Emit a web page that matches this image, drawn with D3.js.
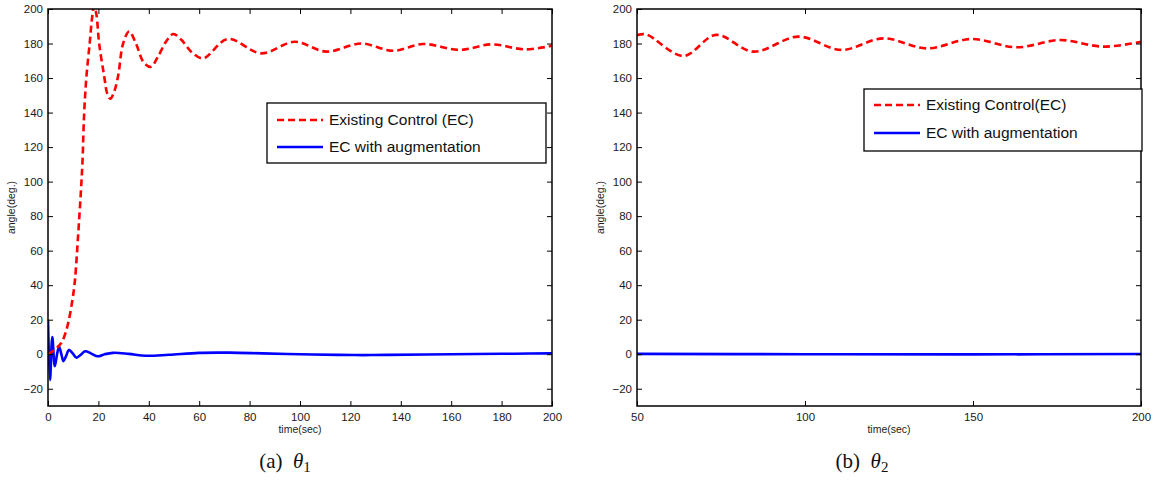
<!DOCTYPE html>
<html>
<head>
<meta charset="utf-8">
<script src="https://cdn.jsdelivr.net/npm/d3@7"></script>
<style>
  body { margin: 0; background: #fff; }
  svg { display: block; }
  .tick text { font-family: "Liberation Sans", Arial, sans-serif; font-size: 11.5px; fill: #1a1a1a; }
  .tick line { stroke: #000; stroke-width: 1; }
  .domain { display: none; }
</style>
</head>
<body>
<svg id="chart" width="1154" height="480"></svg>
<script>
'use strict';

// ---- data ----
var yTicks = [-20, 0, 20, 40, 60, 80, 100, 120, 140, 160, 180, 200];
var xTicks1 = [0, 20, 40, 60, 80, 100, 120, 140, 160, 180, 200];
var xTicks2 = [50, 100, 150, 200];

// panel (a): theta 1
var ecTime1 = [0, 3, 5, 6.4, 8, 9.7, 10.7, 12, 13, 13.7, 14.3, 15.2, 16.6, 17.5, 18.3, 19.2, 20.3,
  22.3, 23.5, 24.7, 26, 27.8, 29.8, 32.2, 34.9, 38, 40.8, 43.5, 46.8, 49.7, 53, 57, 61.6,
  71.3, 84.6, 97.8, 110.4, 124.3, 136.9, 148.8, 163.4, 176, 189.3, 200];
var ecAngle1 = [0, 3, 6, 10, 18, 31.5, 43, 70, 93, 112, 138, 160, 181, 195, 202, 197, 180,
  161, 151, 148, 151, 161, 180, 187, 180, 169, 166.5, 172, 181, 185.5, 182, 175, 171.4,
  182.6, 174.3, 181, 175.3, 180, 175.8, 179.7, 176.3, 179.5, 176.6, 178.7];
var augTime1 = [0, 0.8, 1.7, 2.7, 3.6, 4.4, 5.3, 6.1, 7.2, 8.3, 9.8, 11.3, 13, 14.7, 17, 19.8,
  22.5, 25.8, 32, 38.8, 48, 60, 72, 85, 100, 115, 125, 135, 150, 170, 185, 200];
var augAngle1 = [20, -15, 10, -7, 0, 4.5, 0, -4, -1, 2.5, 0.5, -2, -0.3, 1.7, 0.5, -1.2,
  0, 0.8, 0.2, -0.9, -0.3, 0.8, 0.9, 0.5, 0, -0.4, -0.5, -0.4, -0.2, 0.1, 0.3, 0.5];

// panel (b): theta 2
var ecTime2 = [50, 52.7, 63.8, 73.5, 84.6, 98, 110.8, 123.3, 136.2, 149.6, 163, 175.9, 188.8, 200];
var ecAngle2 = [184.8, 185.3, 172.8, 185, 175.3, 184, 176.3, 183, 177.2, 182.6, 177.8, 182, 178.2, 181];
var augTime2 = [50, 100, 150, 200];
var augAngle2 = [0.2, 0, -0.1, 0.1];

var legendLabels1 = ['Existing Control (EC)', 'EC with augmentation'];
var legendLabels2 = ['Existing Control(EC)', 'EC with augmentation'];

var svg = d3.select('#chart');
svg.append('rect').attr('width', 1154).attr('height', 480).attr('fill', '#fff');

function zip(ts, vs) {
  return ts.map(function(t, i) { return [t, vs[i]]; });
}

function drawPanel(p) {
  var x = d3.scaleLinear().domain(p.xDomain).range([p.left, p.right]);
  var y = d3.scaleLinear().domain([-30, 200]).range([406, 9]);
  var g = svg.append('g');

  g.append('clipPath').attr('id', p.id + 'clip')
    .append('rect')
    .attr('x', p.left).attr('y', y(200))
    .attr('width', p.right - p.left).attr('height', y(-30) - y(200));

  var line = d3.line()
    .x(function(d) { return x(d[0]); })
    .y(function(d) { return y(d[1]); })
    .curve(d3.curveCatmullRom.alpha(0.5));

  var plot = g.append('g').attr('clip-path', 'url(#' + p.id + 'clip)');
  plot.append('path')
    .attr('d', line(zip(p.augT, p.augV)))
    .attr('fill', 'none').attr('stroke', '#0000ff').attr('stroke-width', 2.6);
  plot.append('path')
    .attr('d', line(zip(p.ecT, p.ecV)))
    .attr('fill', 'none').attr('stroke', '#ff0000').attr('stroke-width', 2.6)
    .attr('stroke-dasharray', '7,4');

  // axes, MATLAB style: ticks inside on all four sides
  g.append('g').attr('transform', 'translate(' + p.left + ',0)')
    .call(d3.axisLeft(y).tickValues(yTicks).tickSizeInner(-5).tickSizeOuter(0).tickPadding(5));
  g.append('g').attr('transform', 'translate(' + p.right + ',0)')
    .call(d3.axisRight(y).tickValues(yTicks).tickSizeInner(-5).tickSizeOuter(0).tickFormat(''));
  g.append('g').attr('transform', 'translate(0,' + y(-30) + ')')
    .call(d3.axisBottom(x).tickValues(p.xTicks).tickSizeInner(-5).tickSizeOuter(0).tickPadding(7));
  g.append('g').attr('transform', 'translate(0,' + y(200) + ')')
    .call(d3.axisTop(x).tickValues(p.xTicks).tickSizeInner(-5).tickSizeOuter(0).tickFormat(''));

  g.append('rect')
    .attr('x', p.left).attr('y', y(200))
    .attr('width', p.right - p.left).attr('height', y(-30) - y(200))
    .attr('fill', 'none').attr('stroke', '#000').attr('stroke-width', 1.5);

  g.append('text')
    .attr('transform', 'translate(' + (p.left - 33) + ',' + ((y(200) + y(-30)) / 2) + ') rotate(-90)')
    .attr('text-anchor', 'middle')
    .attr('font-family', 'Liberation Sans, Arial, sans-serif')
    .attr('font-size', 10.5).attr('fill', '#222')
    .text('angle(deg.)');
  g.append('text')
    .attr('x', (p.left + p.right) / 2).attr('y', 433)
    .attr('text-anchor', 'middle')
    .attr('font-family', 'Liberation Sans, Arial, sans-serif')
    .attr('font-size', 10.5).attr('fill', '#222')
    .text('time(sec)');

  // legend
  var lg = p.legend;
  g.append('rect')
    .attr('x', lg.x).attr('y', lg.y).attr('width', lg.w).attr('height', lg.h)
    .attr('fill', '#fff').attr('stroke', '#000').attr('stroke-width', 1.3);
  var styles = [{ c: '#ff0000', dash: '7,4' }, { c: '#0000ff', dash: null }];
  p.labels.forEach(function(label, i) {
    var ly = lg.y + lg.row0 + i * lg.gap;
    g.append('line')
      .attr('x1', lg.x + 10).attr('x2', lg.x + 56)
      .attr('y1', ly).attr('y2', ly)
      .attr('stroke', styles[i].c).attr('stroke-width', 2.4)
      .attr('stroke-dasharray', styles[i].dash);
    g.append('text')
      .attr('x', lg.x + 62).attr('y', ly + 5)
      .attr('font-family', 'Liberation Sans, Arial, sans-serif')
      .attr('font-size', 15.5).attr('fill', '#111')
      .text(label);
  });

  // caption
  var cap = g.append('text')
    .attr('x', p.capX).attr('y', 468)
    .attr('text-anchor', 'middle')
    .attr('font-family', 'Liberation Serif, Times New Roman, serif')
    .attr('font-size', 21).attr('fill', '#111')
    .attr('xml:space', 'preserve');
  cap.append('tspan').text(p.capTag + '  ');
  cap.append('tspan').attr('font-style', 'italic').text('θ');
  cap.append('tspan').attr('font-size', 15).attr('dy', 4).text(p.capSub);
}

drawPanel({
  id: 'a', left: 48, right: 552, xDomain: [0, 200], xTicks: xTicks1,
  ecT: ecTime1, ecV: ecAngle1, augT: augTime1, augV: augAngle1,
  labels: legendLabels1,
  legend: { x: 267, y: 103, w: 279, h: 60, row0: 17, gap: 27 },
  capX: 285, capTag: '(a)', capSub: '1'
});

drawPanel({
  id: 'b', left: 637, right: 1141, xDomain: [50, 200], xTicks: xTicks2,
  ecT: ecTime2, ecV: ecAngle2, augT: augTime2, augV: augAngle2,
  labels: legendLabels2,
  legend: { x: 864, y: 89, w: 278, h: 62, row0: 16, gap: 28 },
  capX: 862, capTag: '(b)', capSub: '2'
});
</script>
</body>
</html>
